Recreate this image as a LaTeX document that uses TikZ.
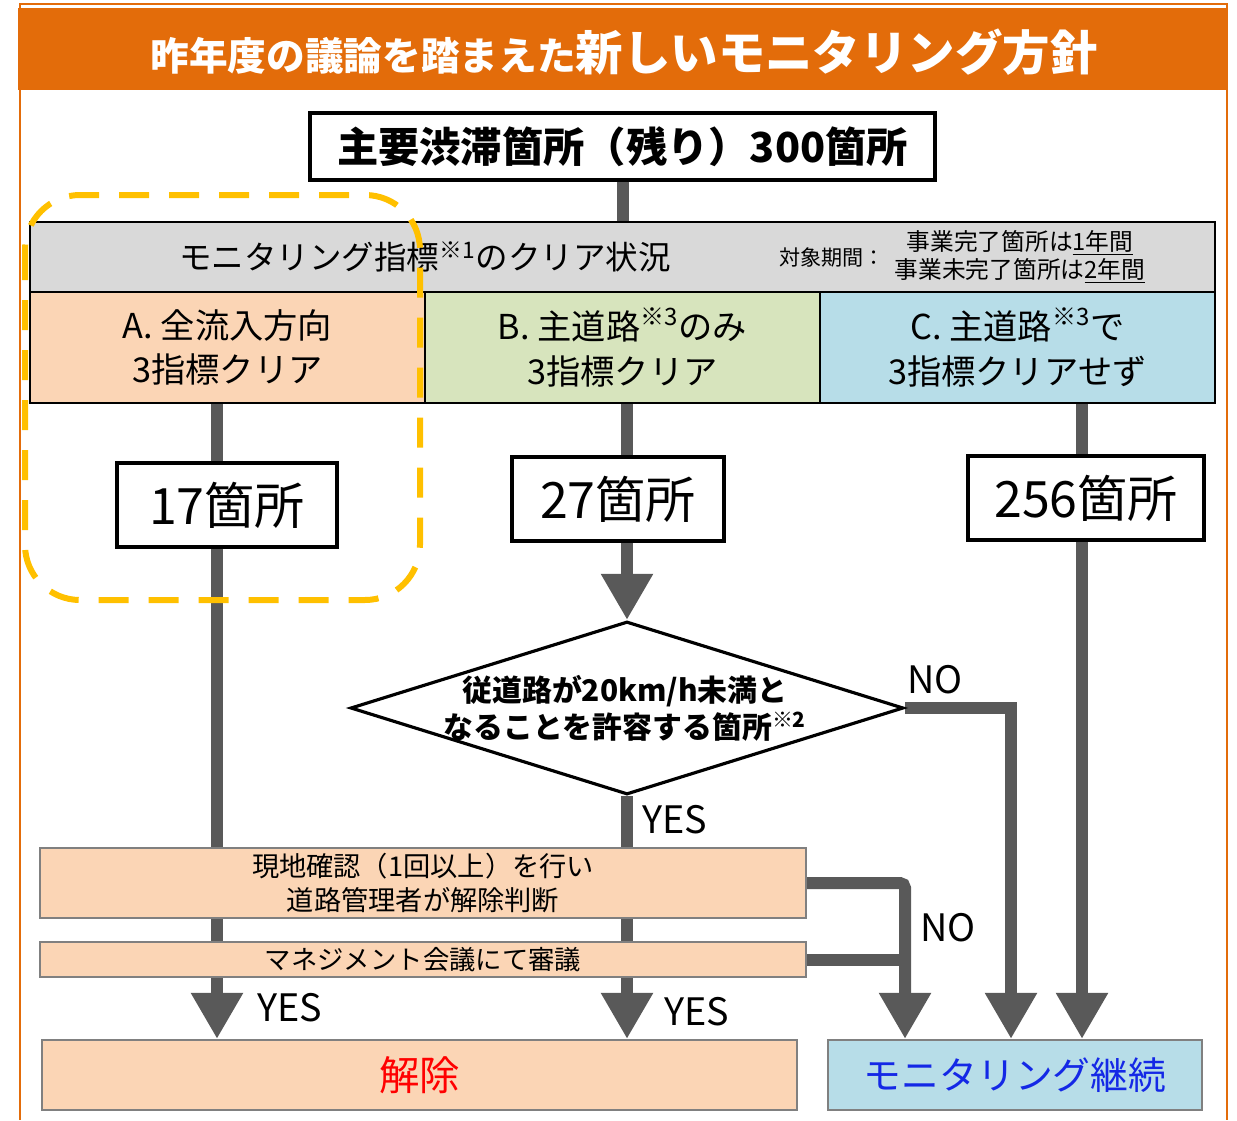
\documentclass[tikz,border=0pt]{standalone}
\usepackage{fontspec}
\setmainfont{Noto Sans CJK JP}
\usepackage{tikz}
\usetikzlibrary{positioning,shapes.geometric,arrows.meta}
\definecolor{titleorange}{RGB}{227,108,10}
\definecolor{peach}{RGB}{251,213,181}
\definecolor{palegreen}{RGB}{215,228,189}
\definecolor{paleblue}{RGB}{183,221,232}
\definecolor{headgray}{RGB}{217,217,217}
\definecolor{flowgray}{RGB}{89,89,89}
\definecolor{dashyellow}{RGB}{255,192,0}
\definecolor{keepblue}{RGB}{20,40,230}
\pgfdeclarelayer{back}
\pgfsetlayers{back,main}
\tikzset{
  cell/.style={draw=black,line width=1.2pt,inner sep=0pt,align=center},
  countbox/.style={draw=black,line width=1.8pt,fill=white,inner sep=0pt,minimum height=1.68cm,font=\fontsize{28.5}{32}\selectfont},
  procbox/.style={draw=gray,line width=1.2pt,fill=peach,inner sep=0pt,align=center},
  flow/.style={draw=flowgray,line width=0.24cm},
  flowarr/.style={flow,-{Triangle[width=0.98cm,length=0.92cm]}},
  yesno/.style={font=\fontsize{21.5}{24}\selectfont}
}
\begin{document}
\begin{tikzpicture}
\useasboundingbox (0,0) rectangle (24.74,-22.4);
\draw[titleorange,line width=1.1pt] (0.4,-22.4) -- (0.4,-0.08) -- (24.54,-0.08) -- (24.54,-22.4);
\fill[titleorange] (0.36,-0.16) rectangle (24.56,-1.8);
\node[text=white,font=\bfseries] (title) at (12.48,-1.04)
{{\fontsize{22}{26}\selectfont 昨年度の議論を踏まえた}{\fontsize{27}{30}\selectfont 新しいモニタリング方針}};

\node[draw=black,line width=1.8pt,fill=white,minimum width=12.5cm,minimum height=1.34cm,inner sep=0pt,font=\bfseries\fontsize{23.5}{26}\selectfont] (top) at (12.45,-2.93)
{主要渋滞箇所（残り）300箇所};

\node[cell,fill=headgray,minimum width=23.7cm,minimum height=1.4cm] (head) at (12.45,-5.14) {};
\node[font=\fontsize{18.5}{22}\selectfont] (headtext) at (8.5,-5.14) {モニタリング指標\textsuperscript{※1}のクリア状況};
\node[font=\fontsize{12}{15}\selectfont] (term) at (16.64,-5.14) {対象期間：};
\node[align=center,font=\fontsize{13.5}{15.9}\selectfont] (termtext) at (20.4,-5.14)
{事業完了箇所は\underline{1年間}\\事業未完了箇所は\underline{2年間}};

\node[cell,fill=peach,minimum width=7.9cm,minimum height=2.22cm,font=\fontsize{19.5}{25.5}\selectfont] (colA) at (4.55,-6.95)
{A. 全流入方向\\3指標クリア};
\node[cell,fill=palegreen,minimum width=7.9cm,minimum height=2.22cm,font=\fontsize{19.5}{25.5}\selectfont] (colB) at (12.45,-6.95)
{B. 主道路\textsuperscript{※3}のみ\\3指標クリア};
\node[cell,fill=paleblue,minimum width=7.9cm,minimum height=2.22cm,font=\fontsize{19.5}{25.5}\selectfont] (colC) at (20.35,-6.95)
{C. 主道路\textsuperscript{※3}で\\3指標クリアせず};

\node[countbox,minimum width=4.4cm] (n17) at (4.54,-10.1) {17箇所};
\node[countbox,minimum width=4.24cm] (n27) at (12.36,-9.98) {27箇所};
\node[countbox,minimum width=4.72cm] (n256) at (21.72,-9.96) {256箇所};

\node[diamond,draw=black,line width=1.8pt,fill=white,minimum width=11.06cm,minimum height=3.46cm,inner sep=0pt] (judge) at (12.54,-14.16) {};
\node[align=center,font=\bfseries\fontsize{17}{21}\selectfont] (judgetext) at (12.5,-14.16)
{従道路が20km/h未満と\\なることを許容する箇所\textsuperscript{※2}};

\node[procbox,minimum width=15.32cm,minimum height=1.4cm,font=\fontsize{15.5}{19.8}\selectfont] (chk) at (8.46,-17.66)
{現地確認（1回以上）を行い\\道路管理者が解除判断};
\node[procbox,minimum width=15.32cm,minimum height=0.7cm,font=\fontsize{15}{18}\selectfont] (mgmt) at (8.46,-19.19)
{マネジメント会議にて審議};

\node[procbox,minimum width=15.1cm,minimum height=1.4cm,text=red,font=\fontsize{23}{26}\selectfont] (cut) at (8.39,-21.5) {解除};
\node[procbox,fill=paleblue,minimum width=7.48cm,minimum height=1.4cm,text=keepblue,font=\fontsize{21.5}{24}\selectfont] (keep) at (20.3,-21.5) {モニタリング継続};

\coordinate (xa) at (4.34,0);
\coordinate (xc) at (21.64,0);
\coordinate (xn) at (18.1,0);
\coordinate (xd) at (20.22,0);

\begin{pgfonlayer}{back}
\draw[flow] (top.south) -- (head.north -| top.south);
\draw[flow] (colA.south -| xa) -- (n17.north -| xa);
\draw[flowarr] (n17.south -| xa) -- (cut.north -| xa);
\draw[flow] (colB.south -| judge.north) -- (n27.north -| judge.north);
\draw[flowarr] (n27.south -| judge.north) -- (judge.north);
\draw[flowarr] (judge.south) -- (cut.north -| judge.south);
\draw[flow] (colC.south -| xc) -- (n256.north -| xc);
\draw[flowarr] (n256.south -| xc) -- (keep.north -| xc);
\draw[flowarr] (judge.east) -| (keep.north -| xd);
\draw[flowarr,rounded corners=0.1cm] (chk.east) -| (keep.north -| xn);
\draw[flow] (mgmt.east) -- (mgmt.east -| xn);
\end{pgfonlayer}

\node[yesno] (no1) at (18.7,-13.6) {NO};
\node[yesno] (yes1) at (13.5,-16.4) {YES};
\node[yesno] (no2) at (18.96,-18.56) {NO};
\node[yesno] (yes2) at (5.8,-20.16) {YES};
\node[yesno] (yes3) at (13.94,-20.24) {YES};

\draw[dashyellow,line width=0.12cm,dash pattern=on 0.6cm off 0.4cm,rounded corners=1.1cm] (0.5,-3.9) rectangle (8.4,-12.0);
\end{tikzpicture}
\end{document}
